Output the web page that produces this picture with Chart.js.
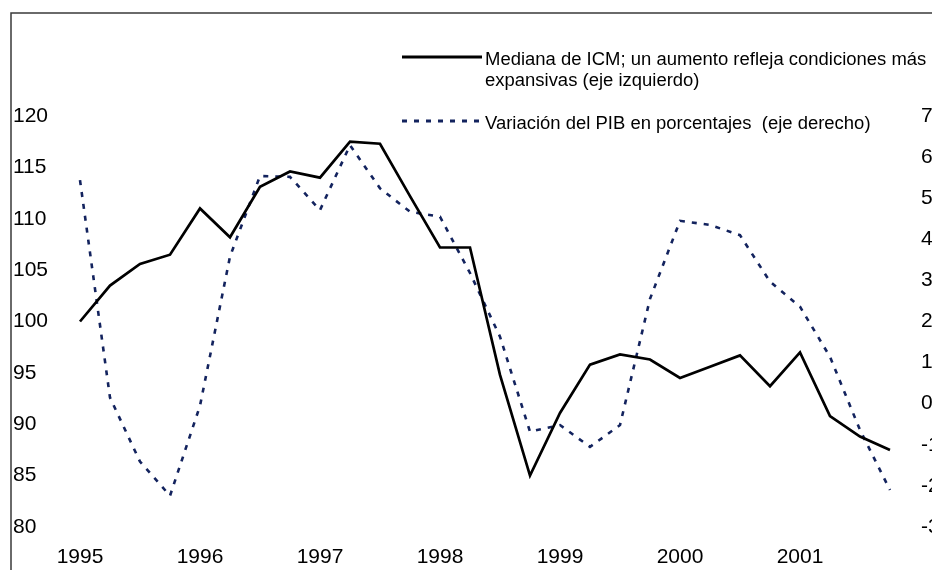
<!DOCTYPE html>
<html lang="es">
<head>
<meta charset="utf-8">
<title>ICM y PIB</title>
<script src="https://cdn.jsdelivr.net/npm/chart.js@4/dist/chart.umd.min.js"></script>
<style>
    html, body { margin: 0; padding: 0; background: #fff; overflow: hidden; }
    #wrap { width: 932px; height: 570px; overflow: hidden; position: relative; }
    canvas { display: block; }
</style>
</head>
<body>
<div id="wrap">
    <canvas id="icmChart" width="960" height="600"></canvas>
</div>
<script>
// Quarterly series, 1995 T1 - 2001 T4
const quarters = [
    '1995 T1', '1995 T2', '1995 T3', '1995 T4',
    '1996 T1', '1996 T2', '1996 T3', '1996 T4',
    '1997 T1', '1997 T2', '1997 T3', '1997 T4',
    '1998 T1', '1998 T2', '1998 T3', '1998 T4',
    '1999 T1', '1999 T2', '1999 T3', '1999 T4',
    '2000 T1', '2000 T2', '2000 T3', '2000 T4',
    '2001 T1', '2001 T2', '2001 T3', '2001 T4'
];

// Median monetary conditions index (left axis)
const icmMedian = [
    100.0, 103.5, 105.6, 106.5,
    111.0, 108.2, 113.1, 114.6,
    114.0, 117.5, 117.3, 112.2,
    107.2, 107.2, 94.8, 85.0,
    91.1, 95.8, 96.8, 96.3,
    94.5, 95.6, 96.7, 93.7,
    97.0, 90.8, 88.8, 87.5
];

// GDP change in percent (right axis)
const pibChange = [
    5.44, 0.15, -1.41, -2.24,
    -0.05, 3.58, 5.54, 5.52,
    4.71, 6.29, 5.24, 4.67,
    4.55, 3.18, 1.63, -0.68,
    -0.52, -1.05, -0.52, 2.55,
    4.45, 4.35, 4.10, 2.97,
    2.36, 1.14, -0.64, -2.10
];

const yearLabels = ['1995', '1996', '1997', '1998', '1999', '2000', '2001'];

const legendIcm = ['Mediana de ICM; un aumento refleja condiciones más', 'expansivas (eje izquierdo)'];
const legendPib = ['Variación del PIB en porcentajes  (eje derecho)'];

const FONT = '"Liberation Sans", Arial, sans-serif';
const NAVY = '#13235e';

// Outer frame of the figure (runs off the right and bottom edges)
const framePlugin = {
    id: 'frame',
    beforeDraw(chart) {
        const ctx = chart.ctx;
        ctx.save();
        ctx.strokeStyle = '#3a3a3a';
        ctx.lineWidth = 1.5;
        ctx.beginPath();
        ctx.moveTo(11, chart.height + 10);
        ctx.lineTo(11, 13);
        ctx.lineTo(chart.width + 10, 13);
        ctx.stroke();
        ctx.restore();
    }
};

// Legend drawn inside the plot, line sample followed by (possibly wrapped) text
const legendPlugin = {
    id: 'innerLegend',
    afterDraw(chart) {
        const ctx = chart.ctx;
        const items = chart.options.plugins.innerLegend.items;
        ctx.save();
        ctx.font = '17.5px ' + FONT;
        ctx.textAlign = 'left';
        ctx.textBaseline = 'middle';
        items.forEach((item, i) => {
            const ds = chart.data.datasets[i];
            ctx.strokeStyle = ds.borderColor;
            ctx.lineWidth = 3;
            ctx.setLineDash(ds.borderDash || []);
            ctx.beginPath();
            ctx.moveTo(402, item.y);
            ctx.lineTo(482, item.y);
            ctx.stroke();
            ctx.setLineDash([]);
            ctx.fillStyle = '#000';
            item.lines.forEach((txt, j) => {
                // text is set slightly wide
                ctx.save();
                ctx.translate(485, item.y + 3 + j * 21);
                ctx.scale(1.055, 1);
                ctx.fillText(txt, 0, 0);
                ctx.restore();
            });
        });
        ctx.restore();
    }
};

const ctx = document.getElementById('icmChart').getContext('2d');
const icmChart = new Chart(ctx, {
    type: 'line',
    data: {
        labels: quarters,
        datasets: [
            {
                label: legendIcm.join(' '),
                data: icmMedian,
                yAxisID: 'y',
                borderColor: '#000000',
                borderWidth: 2.7,
                pointRadius: 0,
                tension: 0,
                fill: false
            },
            {
                label: legendPib.join(' '),
                data: pibChange,
                yAxisID: 'y2',
                borderColor: NAVY,
                borderWidth: 2.6,
                borderDash: [5, 7],
                borderCapStyle: 'butt',
                pointRadius: 0,
                tension: 0,
                fill: false
            }
        ]
    },
    options: {
        responsive: false,
        animation: false,
        layout: {
            padding: { left: 13, right: 15, top: 116, bottom: 23 }
        },
        plugins: {
            legend: { display: false },
            tooltip: { enabled: false },
            innerLegend: {
                items: [
                    { y: 57, lines: legendIcm },
                    { y: 121, lines: legendPib }
                ]
            }
        },
        scales: {
            x: {
                type: 'category',
                offset: true,
                grid: { display: false, drawTicks: false },
                border: { display: false },
                afterFit: (scale) => { scale.height = 50; },
                ticks: {
                    autoSkip: false,
                    maxRotation: 0,
                    padding: 18,
                    color: '#000',
                    font: { family: FONT, size: 21 },
                    callback: (value, index) => index % 4 === 0 ? yearLabels[index / 4] : ''
                }
            },
            y: {
                position: 'left',
                min: 80,
                max: 120,
                grid: { display: false, drawTicks: false },
                border: { display: false },
                afterFit: (scale) => { scale.width = 52; },
                ticks: {
                    stepSize: 5,
                    crossAlign: 'far',
                    color: '#000',
                    font: { family: FONT, size: 21 }
                }
            },
            y2: {
                position: 'right',
                min: -3,
                max: 7,
                grid: { display: false, drawTicks: false },
                border: { display: false },
                afterFit: (scale) => { scale.width = 40; },
                ticks: {
                    stepSize: 1,
                    padding: 16,
                    color: '#000',
                    font: { family: FONT, size: 21 }
                }
            }
        }
    },
    plugins: [framePlugin, legendPlugin]
});
</script>
</body>
</html>
